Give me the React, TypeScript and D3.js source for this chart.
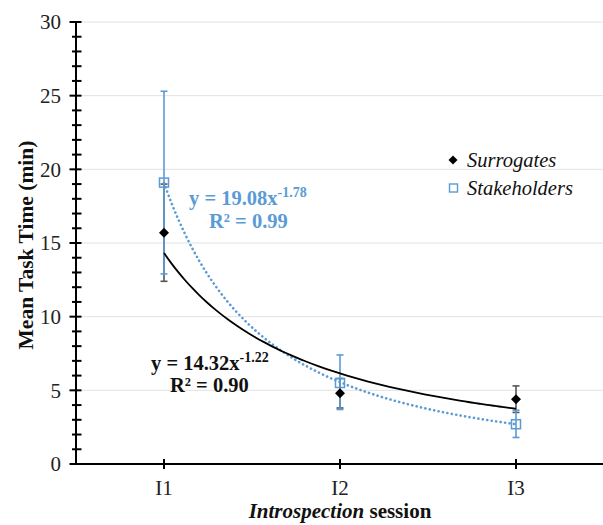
import { useMemo } from 'react'
import * as d3 from 'd3'

const sessions = ['I1', 'I2', 'I3']
const yTicks = [0, 5, 10, 15, 20, 25, 30]

const surrogateMeans = [15.7, 4.8, 4.4]
const surrogateLow = [12.4, 3.8, 3.5]
const surrogateHigh = [19.0, 5.8, 5.3]

const stakeholderMeans = [19.1, 5.5, 2.7]
const stakeholderLow = [12.9, 3.7, 1.8]
const stakeholderHigh = [25.3, 7.4, 3.65]

// power trendlines as printed on the chart: y = a * x^b
const surrogateTrend = { a: 14.32, b: -1.22, r2: '0.90' }
const stakeholderTrend = { a: 19.08, b: -1.78, r2: '0.99' }

const W = 603
const H = 525
const BLUE = '#5b9bd5'
const FONT = '"Liberation Serif", "Times New Roman", serif'

export default function App() {
  const x = d3.scaleLinear().domain([0.5, 3.5]).range([76, 604])
  const y = d3.scaleLinear().domain([0, 30]).range([464, 22])

  const trendPts = useMemo(() => d3.range(1, 3.0001, 0.04), [])
  const line = (t: { a: number; b: number }) =>
    d3.line<number>()
      .x(v => x(v))
      .y(v => y(t.a * Math.pow(v, t.b)))
      .curve(d3.curveMonotoneX)(trendPts) || ''

  const minorTicks = d3.range(0, 31, 1).filter(v => v % 5 !== 0)

  const errBar = (i: number, lo: number, hi: number, color: string, key: string) => {
    const cx = x(i + 1)
    return (
      <g key={key} stroke={color} strokeWidth={1.6}>
        <line x1={cx} x2={cx} y1={y(lo)} y2={y(hi)} />
        <line x1={cx - 3.5} x2={cx + 3.5} y1={y(lo)} y2={y(lo)} />
        <line x1={cx - 3.5} x2={cx + 3.5} y1={y(hi)} y2={y(hi)} />
      </g>
    )
  }

  return (
    <div style={{ position: 'absolute', left: 0, top: 0 }}>
      <svg width={W} height={H} style={{ display: 'block', background: '#fff', fontFamily: FONT }}>
        {/* gridlines */}
        {yTicks.filter(t => t > 0).map(t => (
          <line key={`g${t}`} x1={x(0.5)} x2={W} y1={y(t)} y2={y(t)} stroke="#e2e2e2" strokeWidth={1} />
        ))}

        {/* y axis */}
        <line x1={76} x2={76} y1={y(30)} y2={y(0)} stroke="#000" strokeWidth={2} />
        {minorTicks.map(t => (
          <line key={`m${t}`} x1={72} x2={81.5} y1={y(t)} y2={y(t)} stroke="#000" strokeWidth={2} />
        ))}
        {yTicks.map(t => (
          <g key={`t${t}`}>
            <line x1={69.5} x2={81.5} y1={y(t)} y2={y(t)} stroke="#000" strokeWidth={2} />
            <text x={61} y={y(t)} dy="0.35em" textAnchor="end" fontSize={21} fill="#222">{t}</text>
          </g>
        ))}

        {/* x axis */}
        <line x1={76} x2={W} y1={y(0)} y2={y(0)} stroke="#000" strokeWidth={2} />
        {sessions.map((s, i) => (
          <g key={s}>
            <line x1={x(i + 1)} x2={x(i + 1)} y1={y(0) - 5} y2={y(0) + 5} stroke="#000" strokeWidth={2} />
            <text x={x(i + 1)} y={495} textAnchor="middle" fontSize={21} fill="#222">{s}</text>
          </g>
        ))}

        {/* error bars */}
        {sessions.map((_, i) => errBar(i, surrogateLow[i], surrogateHigh[i], '#555', `se${i}`))}
        {sessions.map((_, i) => errBar(i, stakeholderLow[i], stakeholderHigh[i], BLUE, `ke${i}`))}

        {/* stakeholder markers */}
        {stakeholderMeans.map((v, i) => (
          <rect key={`sq${i}`} x={x(i + 1) - 4.5} y={y(v) - 4.5} width={9} height={9}
            fill="none" stroke={BLUE} strokeWidth={1.5} />
        ))}

        {/* surrogate markers */}
        {surrogateMeans.map((v, i) => {
          const cx = x(i + 1), cy = y(v)
          return <path key={`d${i}`} d={`M${cx},${cy - 5}L${cx + 5},${cy}L${cx},${cy + 5}L${cx - 5},${cy}Z`} fill="#000" />
        })}

        {/* trendlines */}
        <path d={line(stakeholderTrend)} fill="none" stroke={BLUE} strokeWidth={2.6}
          strokeDasharray="0.1 4.4" strokeLinecap="round" />
        <path d={line(surrogateTrend)} fill="none" stroke="#000" strokeWidth={1.8} />

        {/* trendline labels */}
        <g fontWeight="bold" fill={BLUE} fontSize={20.5}>
          <text x={189} y={205}>
            y = {stakeholderTrend.a.toFixed(2)}x
            <tspan dy={-8} fontSize={14}>{stakeholderTrend.b.toFixed(2)}</tspan>
          </text>
          <text x={209} y={228}>R² = {stakeholderTrend.r2}</text>
        </g>
        <g fontWeight="bold" fill="#111" fontSize={20.5}>
          <text x={151} y={370}>
            y = {surrogateTrend.a.toFixed(2)}x
            <tspan dy={-8} fontSize={14}>{surrogateTrend.b.toFixed(2)}</tspan>
          </text>
          <text x={170} y={392}>R² = {surrogateTrend.r2}</text>
        </g>

        {/* legend */}
        <path d="M453,155.5L457.5,160L453,164.5L448.5,160Z" fill="#000" />
        <text x={467} y={167} fontStyle="italic" fontSize={20.5} fill="#111">Surrogates</text>
        <rect x={449.5} y={184} width={8} height={8} fill="none" stroke={BLUE} strokeWidth={1.4} />
        <text x={467} y={195} fontStyle="italic" fontSize={20.5} fill="#111">Stakeholders</text>

        {/* axis titles */}
        <text transform="translate(33,245) rotate(-90)" textAnchor="middle" fontWeight="bold" fontSize={21.5} fill="#111">
          Mean Task Time (min)
        </text>
        <text x={340} y={518} textAnchor="middle" fontWeight="bold" fontSize={21} fill="#111">
          <tspan fontStyle="italic">Introspection</tspan> session
        </text>
      </svg>
    </div>
  )
}
